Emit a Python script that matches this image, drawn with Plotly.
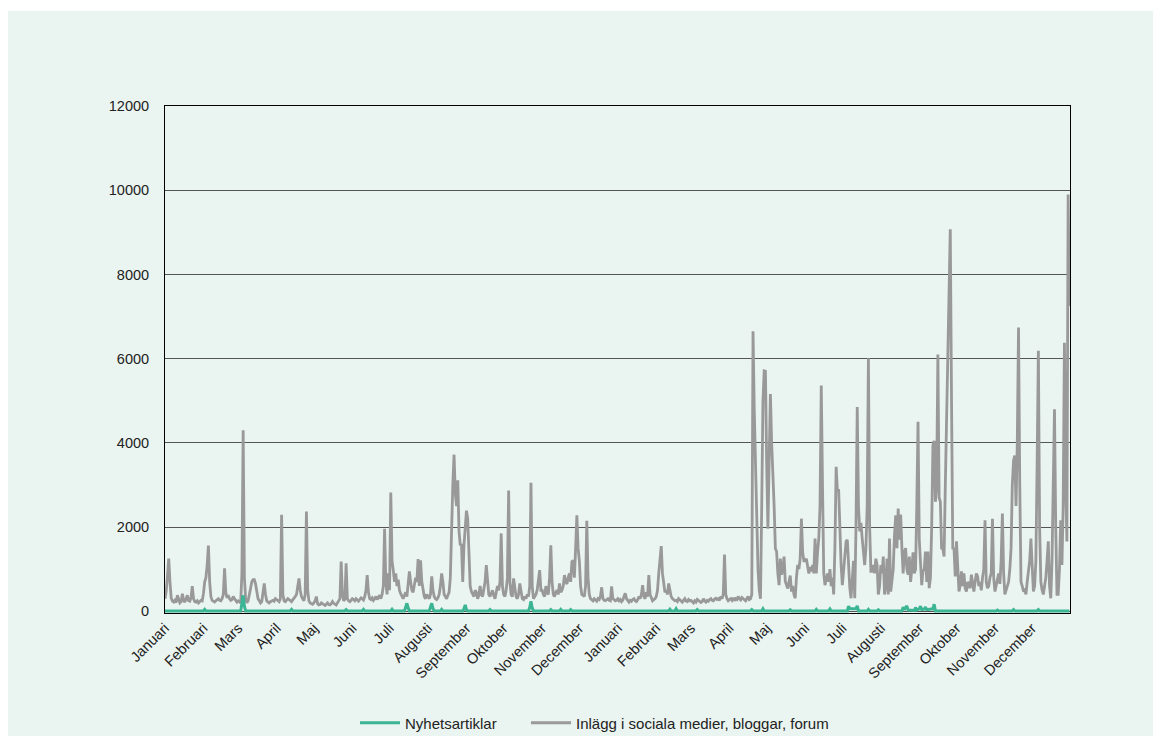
import plotly.graph_objects as go

# ---------------- DATA ----------------
month_names = ["Januari", "Februari", "Mars", "April", "Maj", "Juni", "Juli",
               "Augusti", "September", "Oktober", "November", "December"]
month_lengths = [31, 28, 31, 30, 31, 30, 31, 31, 30, 31, 30, 31]

# Daily counts, "Inlägg i sociala medier, bloggar, forum", two years, per month
social_months = [
    # year 1
    [300,480,850,1250,700,320,240,220,260,210,380,250,200,230,420,260,220,300,380,250,240,330,600,300,230,220,250,200,240,260,250],
    [420,700,800,1100,1560,700,350,260,240,220,250,280,300,260,250,300,400,1020,450,320,380,300,260,280,350,300,250,220],
    [250,220,200,900,4300,800,300,200,250,400,550,700,750,750,650,450,300,250,200,230,450,660,400,250,220,200,230,250,260,240,300],
    [280,250,230,300,2290,400,250,230,260,300,280,250,230,270,300,350,400,600,780,500,350,300,250,400,2370,500,250,200,180,170],
    [200,250,350,180,150,160,200,180,150,140,170,200,160,150,180,230,190,170,150,200,250,300,1180,400,250,280,1140,300,250,230,260],
    [300,280,250,300,260,240,280,320,300,270,350,500,860,450,300,280,320,260,300,350,280,330,380,300,400,600,1960,700,400,900],
    [500,2820,1200,970,700,900,600,750,500,420,350,300,380,450,350,600,950,700,500,450,600,800,700,1240,600,1210,700,450,350,300,400],
    [350,300,400,830,500,350,300,280,320,400,600,900,700,400,350,300,380,450,800,2040,3000,3720,2800,2500,3110,1900,1570,1600,700,1570,2000],
    [2390,2200,1180,600,470,400,350,500,450,300,380,600,400,350,500,700,1100,600,400,350,450,500,380,300,450,600,500,700,1850,600],
    [400,350,500,800,2870,700,400,350,780,500,350,300,400,660,450,300,280,350,300,400,350,600,3050,600,300,350,400,500,700,980,500],
    [500,400,350,600,450,400,800,1570,700,400,350,450,500,400,660,450,500,600,860,700,650,800,900,700,1180,1210,800,1500,2280,1500],
    [1200,600,400,380,350,600,2150,800,400,300,280,250,300,260,240,300,280,350,570,300,260,250,280,300,260,250,590,300,280,250,260],
    # year 2
    [300,250,280,230,260,350,430,300,250,220,260,240,280,300,250,230,270,350,300,400,620,350,300,450,350,860,400,300,250,280,300],
    [350,500,900,1300,1550,900,600,450,500,400,660,500,350,300,280,250,260,230,300,280,250,220,260,300,240,230,280,250],
    [260,230,200,250,220,280,260,240,210,230,300,250,220,260,240,280,300,260,250,290,310,280,300,260,350,300,400,1350,400,300,250],
    [280,300,260,320,250,300,280,350,300,270,330,300,260,250,300,350,280,300,400,6650,4770,3620,2000,1000,500,300,2500,5000,5710,5700],
    [3500,1960,3600,5160,4000,3310,2510,1490,1420,900,620,1250,870,1000,1300,710,600,540,700,850,470,600,400,310,800,1100,1000,1250,2200,1400,1200],
    [1200,1250,1000,900,1050,950,1100,900,1730,900,1400,1730,2500,5360,3000,900,620,750,900,700,1000,600,800,400,1500,3430,2860,2900,1730,1100],
    [620,1000,1200,1660,1700,900,550,310,800,1200,310,2000,4850,2500,1900,2100,1730,1400,1100,1500,2500,6010,2000,950,950,1100,900,1250,1100,400,600],
    [1100,900,1300,400,600,1250,400,1730,470,800,1000,1800,2280,1500,2440,1700,2300,1500,900,1400,1500,1000,870,1300,700,1000,1400,900,1000,2500,4500],
    [1700,1180,620,950,1000,1420,700,1420,550,800,2000,3940,4050,2600,3000,6100,2700,2600,1500,1490,1300,3000,4700,6400,8000,9070,5000,1500,1490,830],
    [1660,1000,470,620,950,600,900,550,470,700,600,550,870,600,470,700,900,830,600,700,500,800,1000,2160,700,550,600,800,900,2200,800],
    [470,600,700,900,650,1200,2320,900,400,500,620,700,1000,1500,3000,3580,3700,2500,4000,6740,3000,700,600,470,500,400,700,900,1200,1730],
    [900,470,600,1200,3500,6190,2000,700,500,400,600,800,1200,1660,600,310,1200,3000,4800,2000,400,400,1000,2160,1100,2500,6380,3000,1660,9900,7250],
]

# "Nyhetsartiklar": day index (from first January) and count
news_days = [0, 31, 32, 33, 61, 62, 63, 64, 65, 101, 102, 103, 145, 146, 147,
             159, 160, 161, 182, 183, 184, 193, 194, 195, 196, 197,
             213, 214, 215, 216, 217, 222, 223, 224, 240, 241, 242, 243, 244,
             261, 262, 263, 293, 294, 295, 296, 297, 310, 311, 312, 318, 319, 320,
             326, 327, 328, 406, 407, 408, 411, 412, 413, 428, 429, 430,
             472, 473, 474, 481, 482, 483, 503, 504, 505, 524, 525, 526,
             535, 536, 537, 550, 551, 552, 557, 558, 559, 566, 567, 568,
             574, 575, 576, 594, 595, 596, 598, 599, 604, 605, 606,
             608, 609, 610, 612, 613, 614, 619, 620, 621, 670, 671, 672,
             683, 684, 685, 703, 704, 705, 729]
news_vals = [10, 10, 45, 10, 10, 160, 380, 120, 10, 10, 45, 10, 10, 40, 10,
             10, 45, 10, 10, 50, 10, 10, 90, 190, 80, 10,
             10, 80, 190, 70, 10, 10, 45, 10, 10, 60, 150, 40, 10,
             10, 40, 10, 10, 90, 240, 80, 10, 10, 40, 10, 10, 45, 10,
             10, 40, 10, 10, 50, 10, 10, 60, 10, 10, 40, 10,
             10, 40, 10, 10, 60, 10, 10, 35, 10, 10, 45, 10,
             10, 55, 10, 10, 120, 60, 60, 130, 10, 10, 45, 10,
             10, 35, 10, 10, 100, 40, 130, 30, 20, 90, 30,
             60, 120, 40, 50, 100, 40, 60, 170, 10, 10, 30, 10,
             10, 40, 10, 10, 40, 10, 10]

y_ticks = [0, 2000, 4000, 6000, 8000, 10000, 12000]

# ---------------- CHECKS ----------------
for i, m in enumerate(social_months):
    assert len(m) == month_lengths[i % 12], (i, len(m))
assert len(news_days) == len(news_vals), (len(news_days), len(news_vals))

social = [v for m in social_months for v in m]
days = list(range(len(social)))

tickvals = []
ticktext = []
start = 0
for yr in range(2):
    for name, ln in zip(month_names, month_lengths):
        tickvals.append(start)
        ticktext.append(name)
        start += ln

# ---------------- FIGURE ----------------
MINT = "#eaf4f0"
TEAL = "#3bb594"
GRAY = "#999999"
FONT = "Arial, Liberation Sans, sans-serif"

fig = go.Figure()
fig.add_trace(go.Scatter(x=days, y=social, mode="lines",
                         name="Inlägg i sociala medier, bloggar, forum",
                         legend="legend2",
                         line=dict(color=GRAY, width=2.8)))
fig.add_trace(go.Scatter(x=news_days, y=news_vals, mode="lines",
                         name="Nyhetsartiklar", legend="legend",
                         line=dict(color=TEAL, width=3)))

# page body adds an 8 px offset; figure coordinates are local to it
OFF = 8
W, H = 1161 - 2 * OFF, 744 - 2 * OFF
L = 165 - OFF
T = 106 - OFF
R = W - (1070 - OFF)
B = H - (613 - OFF)
pw = W - L - R
ph = H - T - B

fig.add_shape(type="rect", xref="paper", yref="paper",
              x0=-L / pw, x1=(W - L) / pw,
              y0=-B / ph, y1=(ph + T - 3) / ph,
              fillcolor=MINT, line=dict(width=0), layer="below")

leg_y = -((723 - OFF) - (H - B)) / ph
leg_common = dict(orientation="h", xanchor="left", y=leg_y, yanchor="middle",
                  itemwidth=40, font=dict(size=15, color="#222222"),
                  bgcolor="rgba(0,0,0,0)")

fig.update_layout(
    width=W, height=H,
    margin=dict(l=L, r=R, t=T, b=B, pad=0, autoexpand=False),
    paper_bgcolor="white",
    plot_bgcolor=MINT,
    font=dict(family=FONT, size=14, color="#222222"),
    showlegend=True,
    legend=dict(x=(355 - OFF - L) / pw, **leg_common),
    legend2=dict(x=(526 - OFF - L) / pw, **leg_common),
    hovermode=False,
)

fig.update_xaxes(range=[0, len(social) - 0.5],
                 tickmode="array", tickvals=tickvals, ticktext=ticktext,
                 tickangle=-45, showgrid=False, zeroline=False,
                 showline=True, mirror=True, linecolor="black", linewidth=1,
                 ticks="", automargin=False,
                 tickfont=dict(size=14.5, color="#222222"))
fig.update_yaxes(range=[-40, 12000], tickmode="array", tickvals=y_ticks,
                 ticktext=[str(v) for v in y_ticks],
                 showgrid=True, gridcolor="#555555", gridwidth=1,
                 zeroline=False, showline=True, mirror=True,
                 linecolor="black", linewidth=1, ticks="",
                 ticklabelstandoff=12, automargin=False,
                 tickfont=dict(size=14.5, color="#222222"))

fig.write_html("out.html")
